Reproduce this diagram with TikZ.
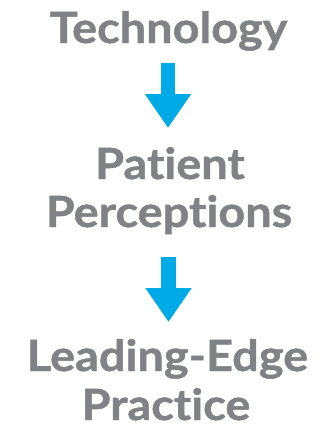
\documentclass[tikz,border=0pt]{standalone}
\usepackage{fontspec}
\setmainfont{Lato}[UprightFont=* Bold, FakeStretch=1.09, FakeBold=1, Ligatures={NoCommon}]
\usetikzlibrary{arrows.meta}
\definecolor{txtgray}{HTML}{808285}
\definecolor{arrblue}{HTML}{00AAE7}
\tikzset{
  label text/.style={text=txtgray, font=\fontsize{43}{48}\selectfont, inner sep=0pt, anchor=base},
  flow arrow/.style={draw=arrblue, line width=14.5pt, -{Triangle[width=44pt,length=34pt]}}
}
\begin{document}
\begin{tikzpicture}[x=1pt,y=-1pt]
\useasboundingbox (0,0) rectangle (323,429);
\node[label text] (t1) at (168.5,43) {Technology};
\node[label text] (t2a) at (170,179) {Patient};
\node[label text] (t2b) at (169,227) {Perceptions};
\node[label text] (t3a) at (167.5,371) {Leading-Edge};
\node[label text] (t3b) at (166,420) {Practice};
\coordinate (a1s) at (168,63);
\coordinate (a1e) at (168,128);
\coordinate (a2s) at (168.5,257);
\coordinate (a2e) at (168.5,322);
\draw[flow arrow] (a1s) -- (a1e);
\draw[flow arrow] (a2s) -- (a2e);
\end{tikzpicture}
\end{document}
